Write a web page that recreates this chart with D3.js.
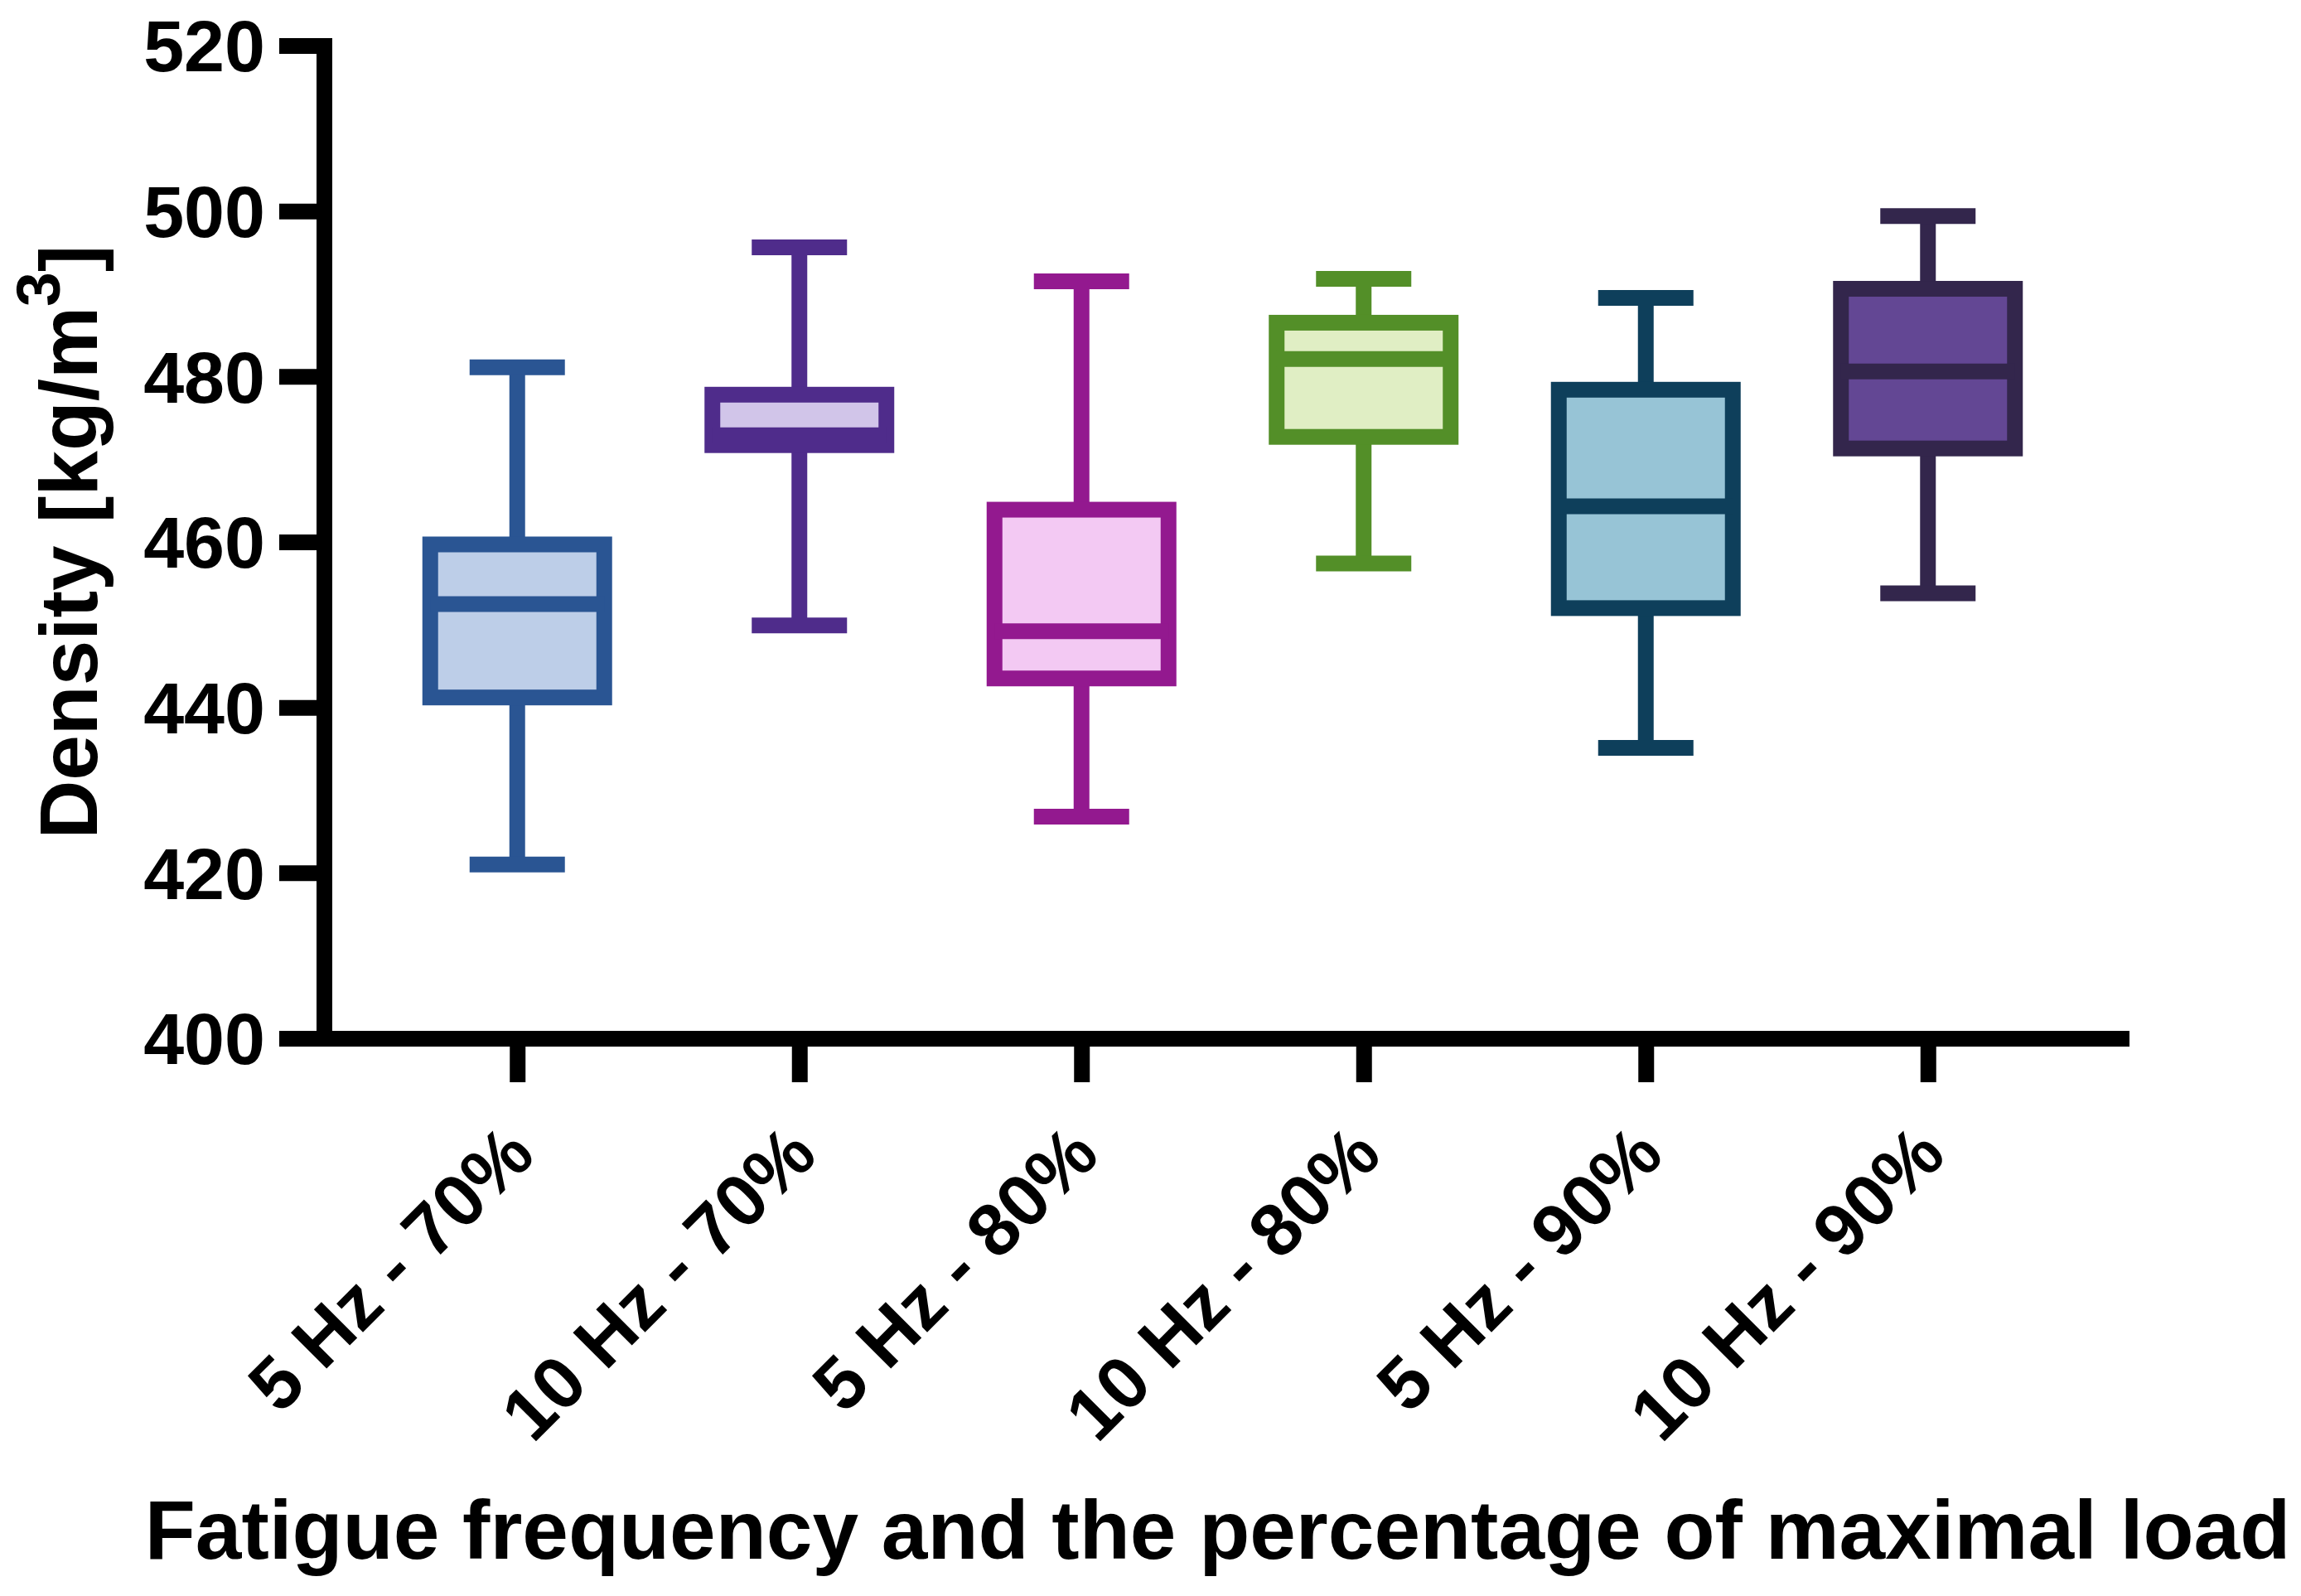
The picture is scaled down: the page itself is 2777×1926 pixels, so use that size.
<!DOCTYPE html>
<html>
<head>
<meta charset="utf-8">
<script src="https://cdn.jsdelivr.net/npm/d3@7"></script>
<style>
  body { margin: 0; background: #fff; }
  text { font-family: "Liberation Sans", Arial, sans-serif; font-weight: bold; }
</style>
</head>
<body>
<div id="chart"></div>
<script>
// chart values
const categories = ["5 Hz - 70%", "10 Hz - 70%", "5 Hz - 80%", "10 Hz - 80%", "5 Hz - 90%", "10 Hz - 90%"];
const mins = [421.0, 449.9, 426.8, 457.4, 435.1, 453.8];
const q1s = [441.2, 471.7, 443.5, 472.7, 452.0, 471.3];
const medians = [452.5, 472.9, 449.2, 482.1, 464.3, 480.6];
const q3s = [459.7, 477.8, 463.9, 486.5, 478.4, 490.6];
const maxs = [481.1, 495.6, 491.5, 491.8, 489.5, 499.4];
const yTicks = [400, 420, 440, 460, 480, 500, 520];

const strokeColors = ["#2a5593", "#4f2c8b", "#93198f", "#538f28", "#0e3f5b", "#33264c"];
const fillColors = ["#bdcee8", "#d1c5e9", "#f3c9f3", "#e0eec4", "#97c4d6", "#634794"];

const width = 2777, height = 1926;
const margin = { top: 55, right: 217, bottom: 673, left: 391 };
const lw = 19;

const svg = d3.select("#chart").append("svg")
  .attr("width", width)
  .attr("height", height);

svg.append("rect").attr("width", width).attr("height", height).attr("fill", "#fff");

const x = d3.scalePoint()
  .domain(categories)
  .range([margin.left, width - margin.right])
  .padding(0.685);

const y = d3.scaleLinear()
  .domain([400, 520])
  .range([height - margin.bottom, margin.top]);

const data = categories.map((c, i) => ({
  cat: c, min: mins[i], q1: q1s[i], med: medians[i], q3: q3s[i], max: maxs[i],
  stroke: strokeColors[i], fill: fillColors[i]
}));

// boxes
const boxW = 210, capW = 115;
const g = svg.append("g");
const box = g.selectAll("g.box").data(data).enter().append("g").attr("class", "box");

box.append("line")
  .attr("x1", d => x(d.cat)).attr("x2", d => x(d.cat))
  .attr("y1", d => y(d.min)).attr("y2", d => y(d.max))
  .attr("stroke", d => d.stroke).attr("stroke-width", lw);

box.append("rect")
  .attr("x", d => x(d.cat) - boxW / 2)
  .attr("width", boxW)
  .attr("y", d => y(d.q3))
  .attr("height", d => y(d.q1) - y(d.q3))
  .attr("fill", d => d.fill)
  .attr("stroke", d => d.stroke).attr("stroke-width", lw);

box.append("line")
  .attr("x1", d => x(d.cat) - boxW / 2).attr("x2", d => x(d.cat) + boxW / 2)
  .attr("y1", d => y(d.med)).attr("y2", d => y(d.med))
  .attr("stroke", d => d.stroke).attr("stroke-width", lw);

["min", "max"].forEach(k => {
  box.append("line")
    .attr("x1", d => x(d.cat) - capW / 2).attr("x2", d => x(d.cat) + capW / 2)
    .attr("y1", d => y(d[k])).attr("y2", d => y(d[k]))
    .attr("stroke", d => d.stroke).attr("stroke-width", lw);
});

// axes
const yAxis = svg.append("g")
  .attr("transform", `translate(${margin.left},0)`)
  .call(d3.axisLeft(y).tickValues(yTicks).tickSize(54).tickSizeOuter(0).tickPadding(17));

const xAxis = svg.append("g")
  .attr("transform", `translate(0,${height - margin.bottom})`)
  .call(d3.axisBottom(x).tickSize(53).tickSizeOuter(0));

[yAxis, xAxis].forEach(a => {
  a.select(".domain").attr("stroke", "#000").attr("stroke-width", lw).attr("stroke-linecap", "square");
  a.selectAll(".tick line").attr("stroke", "#000").attr("stroke-width", lw).attr("transform", null);
  a.selectAll(".tick text").attr("fill", "#000").attr("font-size", 88);
});

yAxis.selectAll(".tick text").attr("dy", "0.35em");

xAxis.selectAll(".tick text")
  .attr("y", null).attr("dy", null)
  .attr("text-anchor", "end")
  .attr("font-size", 89)
  .attr("transform", "translate(24,144) rotate(-45)");

// axis titles
svg.append("text")
  .attr("x", (margin.left + width - margin.right) / 2 - 6)
  .attr("y", 1881)
  .attr("text-anchor", "middle")
  .attr("font-size", 100)
  .text("Fatigue frequency and the percentage of maximal load");

const yTitle = svg.append("text")
  .attr("transform", `translate(117,${(margin.top + height - margin.bottom) / 2}) rotate(-90)`)
  .attr("text-anchor", "middle")
  .attr("font-size", 98);
yTitle.append("tspan").text("Density [kg/m");
yTitle.append("tspan").attr("font-size", 75).attr("dy", -45).text("3");
yTitle.append("tspan").attr("dy", 45).text("]");
</script>
</body>
</html>
